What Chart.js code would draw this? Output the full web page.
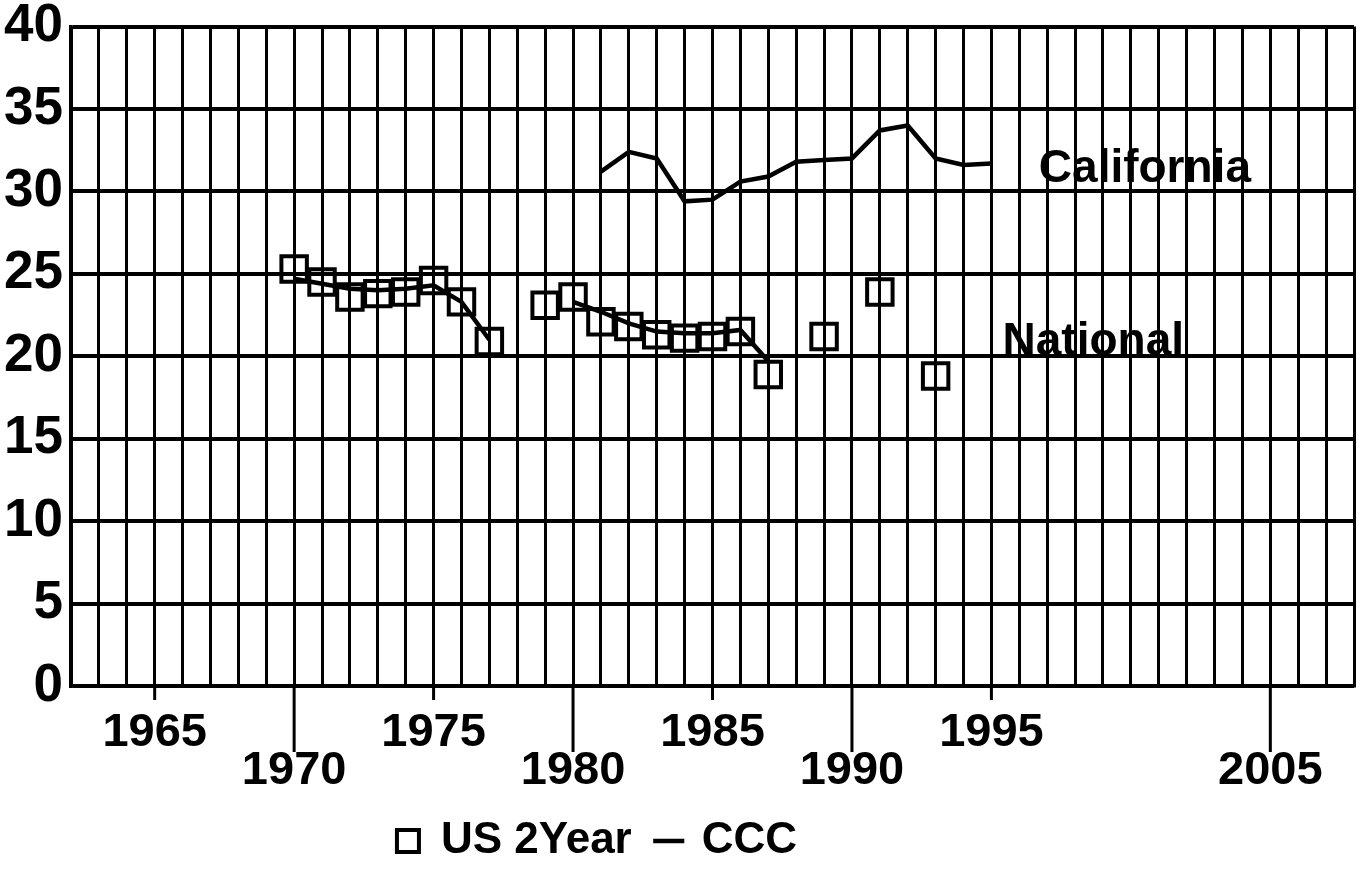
<!DOCTYPE html>
<html>
<head>
<meta charset="utf-8">
<script src="https://cdn.jsdelivr.net/npm/chart.js@4.4.1/dist/chart.umd.min.js"></script>
<style>
    html, body { margin: 0; padding: 0; background: #fff; overflow: hidden; }
    #wrap { width: 1362px; height: 877px; position: relative; }
    #wrap canvas { display: block; }
</style>
</head>
<body>
<div id="wrap"><canvas id="Chartjs-Enroll"></canvas></div>
<script>
// values (gaps = no point drawn)
const years = [1970, 1971, 1972, 1973, 1974, 1975, 1976, 1977, 1978, 1979, 1980, 1981, 1982,
    1983, 1984, 1985, 1986, 1987, 1988, 1989, 1990, 1991, 1992, 1993, 1994, 1995];
const usTwoYear = [25.3, 24.5, 23.6, 23.8, 23.9, 24.6, 23.3, 20.9, null, 23.1, 23.6, 22.1, 21.8,
    21.3, 21.1, 21.2, 21.5, 18.9, null, 21.2, null, 23.9, null, 18.8, null, null];
const cccNational = [24.7, 24.4, 24.1, 24.0, 24.1, 24.3, 23.3, 21.0, null, null, 23.3, 22.7, 22.0,
    21.5, 21.4, 21.4, 21.6, 19.7, null, null, null, null, null, null, null, null];
const cccCalifornia = [null, null, null, null, null, null, null, null, null, null, null, 31.2, 32.4,
    32.0, 29.4, 29.5, 30.6, 30.9, 31.8, 31.9, 32.0, 33.7, 34.0, 32.0, 31.6, 31.7];

// staggered year labels under the axis
const upperYears = [1965, 1975, 1985, 1995];
const lowerYears = [1970, 1980, 1990, 2005];

// text written inside the plot next to the lines
const seriesNotes = [
    { text: 'California', year: 1996.7, value: 30.6 },
    { text: 'National', year: 1995.4, value: 20.1 }
];

const FONT = 'Liberation Sans, Arial, Helvetica, sans-serif';

function toPoints(vals) {
    return years.map(function (yr, i) { return { x: yr, y: vals[i] }; });
}

const extrasPlugin = {
    id: 'extras',
    afterLayout(chart) {
        // legend in the scan sits left of centre
        chart.legend.left -= 80;
        chart.legend.right -= 80;
    },
    afterDraw(chart) {
        const ctx = chart.ctx;
        const xs = chart.scales.x;
        const ys = chart.scales.y;
        const base = chart.chartArea.bottom;
        ctx.save();
        ctx.strokeStyle = '#000';
        ctx.lineWidth = 3;
        upperYears.forEach(function (yr) {
            const px = xs.getPixelForValue(yr);
            ctx.beginPath(); ctx.moveTo(px, base); ctx.lineTo(px, base + 14); ctx.stroke();
        });
        lowerYears.forEach(function (yr) {
            const px = xs.getPixelForValue(yr);
            ctx.beginPath(); ctx.moveTo(px, base); ctx.lineTo(px, base + 66); ctx.stroke();
        });
        ctx.fillStyle = '#000';
        ctx.font = 'bold 46px ' + FONT;
        ctx.textAlign = 'left';
        ctx.textBaseline = 'alphabetic';
        seriesNotes.forEach(function (n) {
            ctx.fillText(n.text, xs.getPixelForValue(n.year), ys.getPixelForValue(n.value));
        });
        ctx.restore();
    }
};

const ctx = document.getElementById('Chartjs-Enroll').getContext('2d');
window.enrollChart = new Chart(ctx, {
    type: 'line',
    data: {
        datasets: [{
            label: 'US 2Year',
            data: toPoints(usTwoYear),
            showLine: false,
            pointStyle: 'rect',
            pointRadius: 18,
            pointBorderWidth: 4,
            borderWidth: 3.5,
            backgroundColor: '#fff',
            borderColor: '#000',
            pointBackgroundColor: 'rgba(255,255,255,0)',
            pointBorderColor: '#000'
        }, {
            label: 'CCC',
            data: toPoints(cccNational),
            borderColor: '#000',
            backgroundColor: '#000',
            borderWidth: 4.5,
            pointStyle: 'line',
            pointRadius: 0,
            tension: 0,
            spanGaps: false
        }, {
            label: 'California',
            data: toPoints(cccCalifornia),
            borderColor: '#000',
            backgroundColor: '#000',
            borderWidth: 4.5,
            pointStyle: 'line',
            pointRadius: 0,
            tension: 0,
            spanGaps: false
        }]
    },
    options: {
        responsive: true,
        maintainAspectRatio: false,
        animation: false,
        layout: { autoPadding: false, padding: { top: 10, right: 8, left: 0, bottom: 4 } },
        plugins: {
            legend: {
                position: 'bottom',
                labels: {
                    usePointStyle: true,
                    boxWidth: 22,
                    boxHeight: 22,
                    padding: 26,
                    color: '#000',
                    font: { family: FONT, size: 44, weight: 'bold' },
                    filter: function (item) { return item.text !== 'California'; }
                }
            },
            tooltip: { enabled: false }
        },
        scales: {
            x: {
                type: 'linear',
                min: 1962,
                max: 2008,
                grid: { color: '#000', lineWidth: 3, drawTicks: false },
                border: { display: true, color: '#000', width: 3.5 },
                ticks: {
                    stepSize: 1,
                    maxTicksLimit: 100,
                    autoSkip: false,
                    maxRotation: 0,
                    align: 'inner',
                    padding: -9,
                    color: '#000',
                    font: { family: FONT, size: 47, weight: 'bold', lineHeight: 0.8 },
                    callback: function (value) {
                        if (upperYears.includes(value)) return ['', String(value)];
                        if (lowerYears.includes(value)) return ['', '', String(value)];
                        return '';
                    }
                },
                afterFit: function (scale) { scale.height = 107; }
            },
            y: {
                min: 0,
                max: 40,
                grid: { color: '#000', lineWidth: 4, drawTicks: false },
                border: { display: true, color: '#000', width: 3.5 },
                ticks: {
                    stepSize: 5,
                    padding: 8,
                    color: '#000',
                    font: { family: FONT, size: 53, weight: 'bold', lineHeight: 0.7 }
                },
                afterFit: function (scale) { scale.width = 71; }
            }
        }
    },
    plugins: [extrasPlugin]
});
</script>
</body>
</html>
